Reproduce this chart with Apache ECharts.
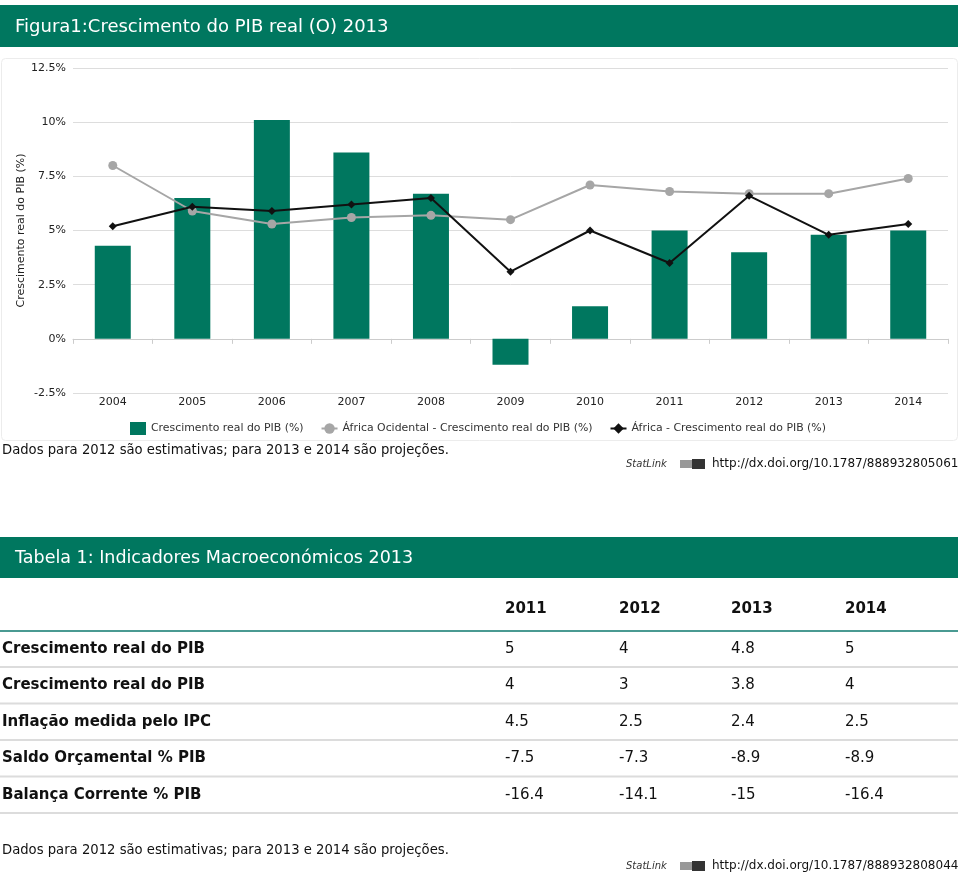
<!DOCTYPE html>
<html>
<head>
<meta charset="utf-8">
<script src="https://cdn.jsdelivr.net/npm/echarts@6/dist/echarts.min.js"></script>
<style>
html,body{margin:0;padding:0;background:#fff;}
#c{width:960px;height:873px;}
</style>
</head>
<body>
<div id="c"></div>
<script>
// ---- chart data ----
var years = ['2004','2005','2006','2007','2008','2009','2010','2011','2012','2013','2014'];
var pibReal = [4.3, 6.5, 10.1, 8.6, 6.7, -1.2, 1.5, 5.0, 4.0, 4.8, 5.0];
var africaOcidental = [8.0, 5.9, 5.3, 5.6, 5.7, 5.5, 7.1, 6.8, 6.7, 6.7, 7.4];
var africa = [5.2, 6.1, 5.9, 6.2, 6.5, 3.1, 5.0, 3.5, 6.6, 4.8, 5.3];
var seriesNames = ['Crescimento real do PIB (%)', 'África Ocidental - Crescimento real do PIB (%)', 'África - Crescimento real do PIB (%)'];

// ---- table data ----
var tableYears = ['2011','2012','2013','2014'];
var tableLabels = ['Crescimento real do PIB','Crescimento real do PIB','Inflação medida pelo IPC','Saldo Orçamental % PIB','Balança Corrente % PIB'];
var rowPib = ['5','4','4.8','5'];
var rowPib2 = ['4','3','3.8','4'];
var rowInflacao = ['4.5','2.5','2.4','2.5'];
var rowSaldo = ['-7.5','-7.3','-8.9','-8.9'];
var rowBalanca = ['-16.4','-14.1','-15','-16.4'];
var tableRows = [rowPib, rowPib2, rowInflacao, rowSaldo, rowBalanca];

var GREEN = '#00775F';
var FONT = 'DejaVu Sans';

var graphics = [];
// Figure title bar
graphics.push({type:'rect', shape:{x:0,y:5,width:958,height:42}, style:{fill:GREEN}, z:0});
graphics.push({type:'text', x:15, y:27, style:{text:'Figura1:Crescimento do PIB real (O) 2013', font:'18px "DejaVu Sans"', fill:'#fff', textVerticalAlign:'middle'}});
// chart frame
graphics.push({type:'rect', shape:{x:1.5,y:58.5,width:956,height:382,r:4}, style:{fill:'none', stroke:'#ececec', lineWidth:1}, z:-1});
// note + statlink
function statlink(y, url){
  graphics.push({type:'text', x:626, y:y, style:{text:'StatLink', font:'italic 10px "DejaVu Sans"', fill:'#333', textVerticalAlign:'middle'}});
  graphics.push({type:'rect', shape:{x:680,y:y-4,width:12,height:8}, style:{fill:'#999'}});
  graphics.push({type:'rect', shape:{x:692,y:y-5,width:13,height:10}, style:{fill:'#333'}});
  graphics.push({type:'text', x:712, y:y, style:{text:url, font:'12px "DejaVu Sans"', fill:'#111', textVerticalAlign:'middle'}});
}
graphics.push({type:'text', x:2, y:451, style:{text:'Dados para 2012 são estimativas; para 2013 e 2014 são projeções.', font:'13.2px "DejaVu Sans"', fill:'#111', textVerticalAlign:'middle'}});
statlink(464, 'http://dx.doi.org/10.1787/888932805061');

// Table title bar
graphics.push({type:'rect', shape:{x:0,y:537,width:958,height:41}, style:{fill:GREEN}});
graphics.push({type:'text', x:15, y:558, style:{text:'Tabela 1: Indicadores Macroeconómicos 2013', font:'17.5px "DejaVu Sans"', fill:'#fff', textVerticalAlign:'middle'}});
var colX = [505, 619, 731, 845];
tableYears.forEach(function(yr, i){
  graphics.push({type:'text', x:colX[i], y:609, style:{text:yr, font:'bold 15px "DejaVu Sans"', fill:'#111', textVerticalAlign:'middle'}});
});
graphics.push({type:'rect', shape:{x:0,y:630,width:958,height:2}, style:{fill:'#4a9a92'}});
tableLabels.forEach(function(lab, r){
  var cy = 649 + r*36.5;
  graphics.push({type:'text', x:2, y:cy, style:{text:lab, font:'bold 15px "DejaVu Sans"', fill:'#111', textVerticalAlign:'middle'}});
  tableRows[r].forEach(function(v, i){
    graphics.push({type:'text', x:colX[i], y:cy, style:{text:v, font:'15px "DejaVu Sans"', fill:'#111', textVerticalAlign:'middle'}});
  });
  graphics.push({type:'rect', shape:{x:0,y:cy+17,width:958,height:2}, style:{fill:'#dcdcdc'}});
});
graphics.push({type:'text', x:2, y:851, style:{text:'Dados para 2012 são estimativas; para 2013 e 2014 são projeções.', font:'13.2px "DejaVu Sans"', fill:'#111', textVerticalAlign:'middle'}});
statlink(866, 'http://dx.doi.org/10.1787/888932808044');

var chart = echarts.init(document.getElementById('c'), null, {renderer:'canvas'});
chart.setOption({
  animation:false,
  backgroundColor:'#fff',
  textStyle:{fontFamily:FONT},
  grid:{left:73, right:12, top:68, bottom:480, containLabel:false},
  legend:{
    left:125, top:417, itemGap:17, itemWidth:16, itemHeight:13,
    textStyle:{fontFamily:FONT, fontSize:10.9, color:'#333'},
    data:[
      {name:seriesNames[0], icon:'rect'},
      {name:seriesNames[1]},
      {name:seriesNames[2]}
    ]
  },
  xAxis:{
    type:'category', data:years, boundaryGap:true,
    axisLine:{lineStyle:{color:'#cccccc', width:1}},
    axisTick:{show:true, length:5, lineStyle:{color:'#cccccc'}},
    axisLabel:{fontFamily:FONT, fontSize:11, color:'#222', margin:4}
  },
  yAxis:{
    type:'value', min:-2.5, max:12.5, interval:2.5,
    name:'Crescimento real do PIB (%)', nameLocation:'middle', nameGap:46, nameMoveOverlap:false,
    nameTextStyle:{fontFamily:FONT, fontSize:11, color:'#222'},
    axisLine:{show:false}, axisTick:{show:false},
    axisLabel:{fontFamily:FONT, fontSize:11, color:'#222', margin:7, formatter:function(v){return v+'%';}},
    splitLine:{lineStyle:{color:'#dddddd', width:1}}
  },
  series:[
    {name:seriesNames[0], type:'bar', data:pibReal, barWidth:36, itemStyle:{color:GREEN}, z:1},
    {name:seriesNames[1], type:'line', data:africaOcidental, symbol:'circle', symbolSize:9,
      lineStyle:{color:'#a6a6a6', width:2}, itemStyle:{color:'#a6a6a6'}, z:3},
    {name:seriesNames[2], type:'line', data:africa, symbol:'diamond', symbolSize:8,
      lineStyle:{color:'#111', width:2}, itemStyle:{color:'#111'}, z:4}
  ],
  graphic:graphics
});
</script>
</body>
</html>
